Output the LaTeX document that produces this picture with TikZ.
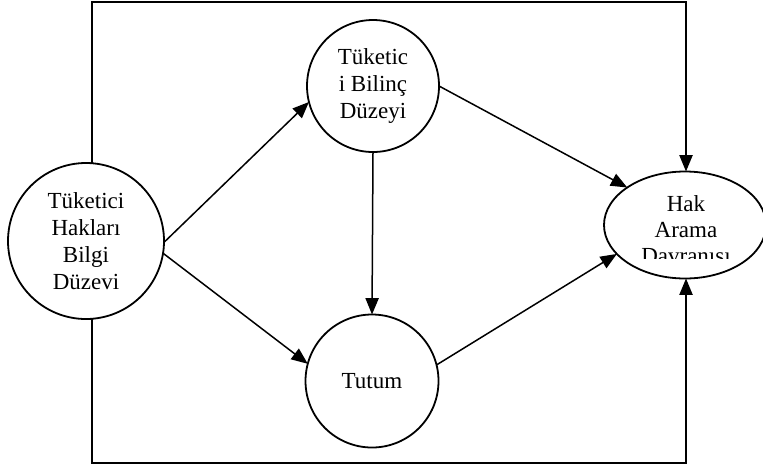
\documentclass[tikz,border=0pt]{standalone}
\usepackage{fontspec}
\setmainfont{Liberation Serif}
\usetikzlibrary{arrows.meta,shapes.geometric}
\tikzset{konu/.style={draw, circle, line width=0.9pt, inner sep=0pt, outer sep=0pt,
		align=center, font=\fontsize{11.5}{13.4}\selectfont}}
\tikzset{ok/.style={-{Triangle[length=8.2pt,width=6.6pt]}, line width=0.75pt}}

\begin{document}
\begin{tikzpicture}[x=0.5pt, y=-0.5pt]
	\useasboundingbox (0,0) rectangle (763,467);
	% daireler
	\node [konu, minimum size=78pt] (bilgi) at (86,241) {Tüketici\\Hakları\\Bilgi\\Düzevi};
	\node [konu, minimum size=66pt] (bilinc) at (373,86) {Tüketic\\i Bilinç\\Düzeyi};
	\node [konu, minimum size=66.5pt] (tutum) at (372,381) {Tutum};
	\node [konu, ellipse, minimum width=81pt, minimum height=53.5pt] (hak) at (685,225) {};
	\begin{scope}
		\clip (600,150) rectangle (763,258);
		\node [align=center, font=\fontsize{11.5}{12.8}\selectfont] (hakyazi) at (686,232) {Hak\\Arama\\Davranışı};
	\end{scope}
	
	% cerceve
	\coordinate (ustsol) at (92,2);
	\coordinate (ustsag) at (686,2);
	\coordinate (altsol) at (92,463);
	\coordinate (altsag) at (686,463);
	\draw [ok] (bilgi.north -| ustsol) -- (ustsol) -- (ustsag) -- (hak.north -| ustsag);
	\draw [ok] (bilgi.south -| altsol) -- (altsol) -- (altsag) -- (hak.south -| altsag);
	
	% oklar
	\draw [ok] (bilgi.-1) -- (bilinc.194);
	\draw [ok] (bilgi.-9) -- (tutum.165);
	\draw [ok] (bilinc.south) -- (tutum.north);
	\draw [ok] (bilinc.0) -- (hak.147);
	\draw [ok] (tutum.14) -- (hak.203);
\end{tikzpicture}
\end{document}
